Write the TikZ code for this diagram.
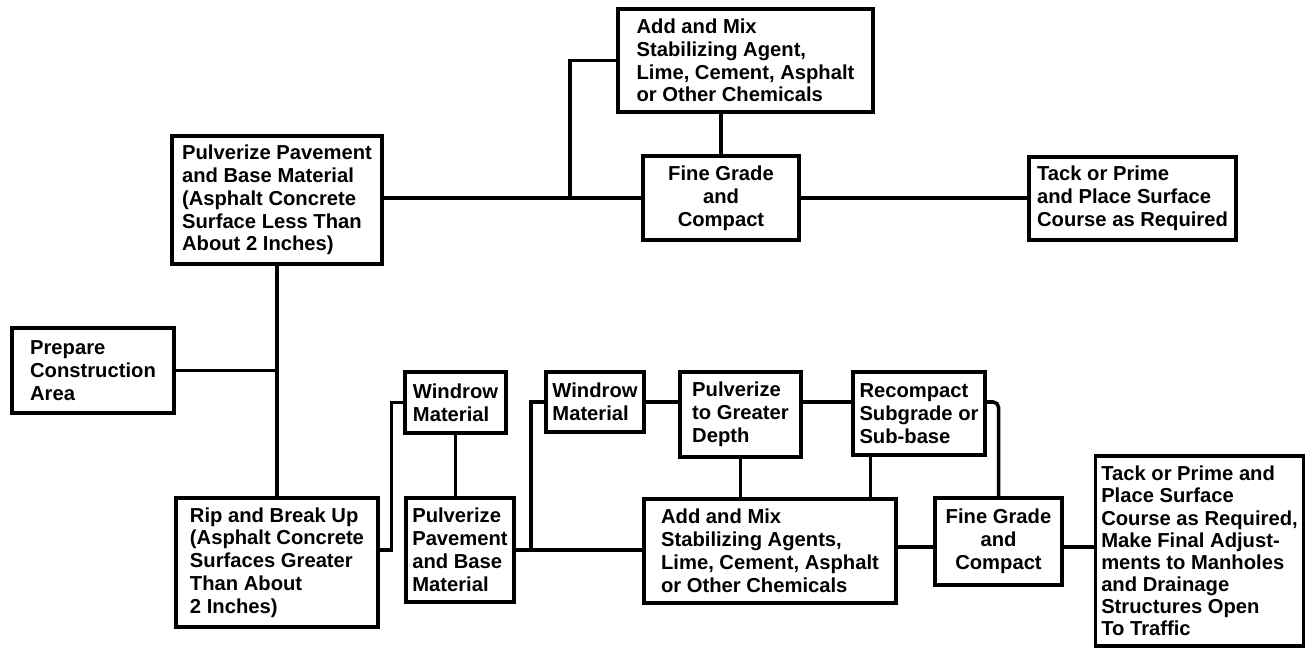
\documentclass[tikz,border=0pt]{standalone}
\usepackage{fontspec}
\setmainfont{Liberation Sans}
\begin{document}
\begin{tikzpicture}[x=0.02cm, y=-0.02cm, line width=2pt, font=\bfseries\fontsize{11.5}{13}\selectfont]
  \tikzset{box/.style={draw, inner sep=2pt, align=left},
    cbox/.style={box, align=center}}
  \useasboundingbox (0,0) rectangle (1305,649);
  % upper route
  \node[box, minimum width=4.2cm, minimum height=2.56cm] (pulv) at (277,200) {Pulverize Pavement\\and Base Material\\(Asphalt Concrete\\Surface Less Than\\About 2 Inches)};
  \node[box, minimum width=5.1cm, minimum height=2.06cm] (mix) at (745.5,60.5) {Add and Mix\\Stabilizing Agent,\\Lime, Cement, Asphalt\\or Other Chemicals};
  \node[cbox, minimum width=3.12cm, minimum height=1.68cm] (grade) at (721,198) {Fine Grade\\and\\Compact};
  \node[box, minimum width=4.14cm, minimum height=1.66cm] (tack) at (1132.5,198.5) {Tack or Prime\\and Place Surface\\Course as Required};
  % start
  \node[box, minimum width=3.24cm, minimum height=1.7cm] (prep) at (93,370.5) {Prepare\\Construction\\Area};
  % lower route
  \node[box, minimum width=4.04cm, minimum height=2.58cm] (rip) at (277,562.5) {Rip and Break Up\\(Asphalt Concrete\\Surfaces Greater\\Than About\\2 Inches)};
  \node[box, minimum width=2.02cm, minimum height=1.22cm] (windA) at (455.5,402.5) {Windrow\\Material};
  \node[box, minimum width=2.16cm, minimum height=2.08cm] (pulvB) at (460,550) {Pulverize\\Pavement\\and Base\\Material};
  \node[box, minimum width=1.96cm, minimum height=1.2cm] (windB) at (595,402) {Windrow\\Material};
  \node[box, minimum width=2.42cm, minimum height=1.7cm] (deep) at (740.5,414.5) {Pulverize\\to Greater\\Depth};
  \node[box, minimum width=2.64cm, minimum height=1.66cm] (recomp) at (919,413.5) {Recompact\\Subgrade or\\Sub-base};
  \node[box, minimum width=5.04cm, minimum height=2.08cm] (mixB) at (770,551) {Add and Mix\\Stabilizing Agents,\\Lime, Cement, Asphalt\\or Other Chemicals};
  \node[cbox, minimum width=2.54cm, minimum height=1.74cm] (gradeB) at (998.5,541.5) {Fine Grade\\and\\Compact};
  \node[box, minimum width=4.16cm, minimum height=3.8cm, font=\bfseries\fontsize{11.5}{12.6}\selectfont] (tackB) at (1199.5,551) {Tack or Prime and\\Place Surface\\Course as Required,\\Make Final Adjust-\\ments to Manholes\\and Drainage\\Structures Open\\To Traffic};
  \coordinate (top) at (570,197);
  \coordinate (fork) at (531,551);
  \coordinate (low) at (920,547);
  \draw (grade.west) -- (grade.west -| pulv.east);
  \draw (top) |- (mix.west);
  \draw (grade.north) -- (grade.north |- mix.south);
  \draw (grade.east) -- (grade.east -| tack.west);
  \draw (pulv.south) -- (rip.north);
  \draw (prep.east) -- (prep.east -| pulv.south);
  \draw (rip.east |- pulvB.west) -- ++(12,0) |- (windA.west);
  \draw (windA.south) -- (windA.south |- pulvB.north);
  \draw (pulvB.east) -- (pulvB.east -| mixB.west);
  \draw (fork) |- (windB.west);
  \draw (windB.east) -- (windB.east -| deep.west);
  \draw (windB.east -| deep.east) -- (windB.east -| recomp.west);
  \draw (deep.south) -- (deep.south |- mixB.north);
  \path (recomp.south west) ++(19,0) coordinate (sub);
  \draw (sub) -- (sub |- mixB.north);
  \draw[rounded corners=3pt] (windB.east -| recomp.east) -| (gradeB.north);
  \draw (mixB.east |- low) -- (gradeB.west |- low);
  \draw (gradeB.east |- low) -- (tackB.west |- low);
\end{tikzpicture}
\end{document}
